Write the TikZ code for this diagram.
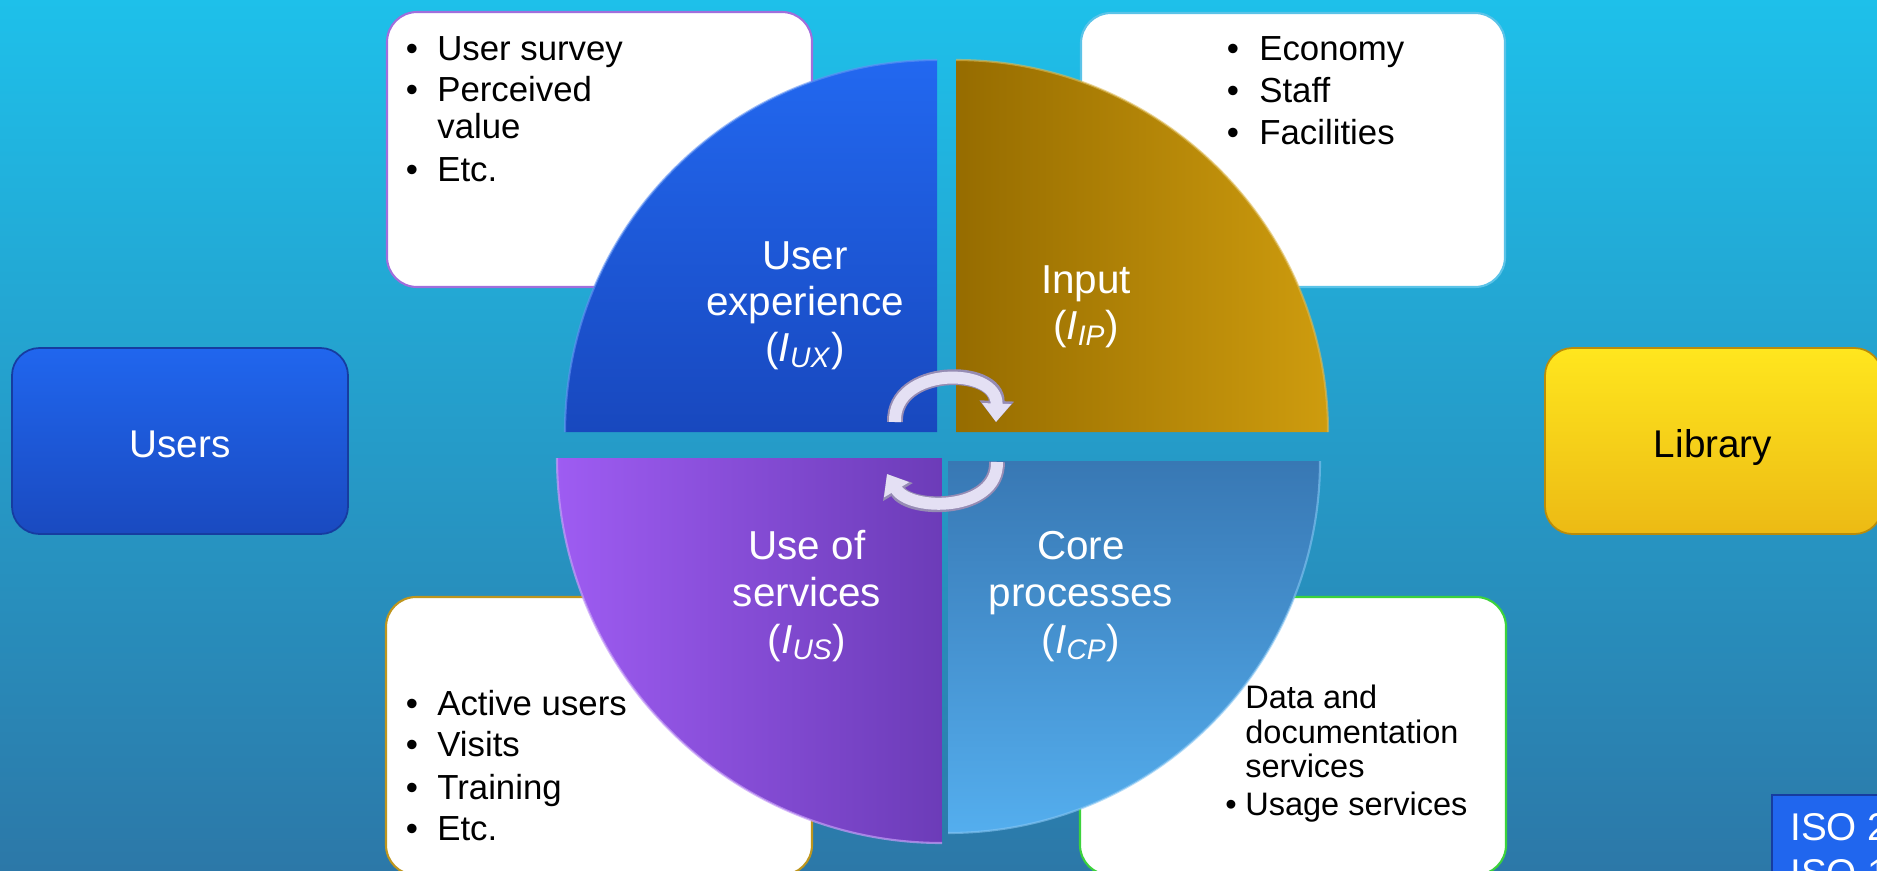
\documentclass[tikz,border=0pt]{standalone}
\usepackage{fontspec}
\setmainfont{Liberation Sans}
\usetikzlibrary{arrows.meta}
\definecolor{bgtop}{RGB}{30,192,234}
\definecolor{bgmid}{RGB}{34,160,208}
\definecolor{bgbot}{RGB}{44,120,168}
\definecolor{bqtop}{RGB}{34,104,240}
\definecolor{bqbot}{RGB}{24,72,190}
\definecolor{gqleft}{RGB}{150,108,0}
\definecolor{gqright}{RGB}{206,156,14}
\definecolor{pqleft}{RGB}{158,92,242}
\definecolor{pqright}{RGB}{108,60,184}
\definecolor{lqtop}{RGB}{56,120,180}
\definecolor{lqbot}{RGB}{84,174,238}
\definecolor{ubtop}{RGB}{32,102,238}
\definecolor{ubbot}{RGB}{26,74,192}
\definecolor{ubedge}{RGB}{22,60,160}
\definecolor{lbtop}{RGB}{255,230,30}
\definecolor{lbbot}{RGB}{236,186,20}
\definecolor{lbedge}{RGB}{185,140,10}
\definecolor{bdpurple}{RGB}{160,110,220}
\definecolor{bdcyan}{RGB}{90,195,232}
\definecolor{bdgold}{RGB}{190,150,30}
\definecolor{bdgreen}{RGB}{60,210,60}
\definecolor{arrlight}{RGB}{228,224,244}
\definecolor{arrdark}{RGB}{150,140,180}
\newcommand\myqf{\fontsize{23}{26}\selectfont}
\newcommand\mybf{\fontsize{19.8}{23}\selectfont}
\newcommand\mysf{\fontsize{18.5}{20}\selectfont}
\newcommand\mybig{\fontsize{22}{26}\selectfont}
\begin{document}
\begin{tikzpicture}[x=0.02cm,y=-0.02cm,
  wbox/.style={fill=white, rounded corners=0.6cm, line width=1.2pt},
  qlabel/.style={anchor=base, inner sep=0pt, text=white, font=\myqf},
  bdot/.style={anchor=base, inner sep=0pt, font=\mybf},
  btxt/.style={anchor=base west, inner sep=0pt, font=\mybf},
  stxt/.style={anchor=base west, inner sep=0pt, font=\mysf},
  sdot/.style={anchor=base, inner sep=0pt, font=\mysf},
  arrunder/.style={line width=9pt, color=arrdark, -{Triangle[length=12pt,width=19pt]}},
  arrover/.style={line width=6.8pt, color=arrlight, -{Triangle[length=10.5pt,width=16pt]}}]
\useasboundingbox (0,0) rectangle (1877,870);
\clip (0,0) rectangle (1877,870);
% background
\shade[top color=bgtop, middle color=bgmid, bottom color=bgbot] (0,0) rectangle (1877,870);
% white boxes
\draw[wbox, draw=bdpurple] (387,12) rectangle (812,287);
\draw[wbox, draw=bdcyan] (1081,13) rectangle (1505,287);
\draw[wbox, draw=bdgold] (386,597) rectangle (812,875);
\draw[wbox, draw=bdgreen] (1080,597) rectangle (1506,875);
% quadrants
\shade[top color=bqtop, bottom color=bqbot] (937,432) -- (565,432) .. controls (565,226.6) and (731.6,60) .. (937,60) -- cycle;
\shade[left color=gqleft, right color=gqright] (956,432) -- (956,60) .. controls (1161.4,60) and (1328,226.6) .. (1328,432) -- cycle;
\shade[left color=pqleft, right color=pqright] (942,458) -- (557,458) .. controls (557,670.6) and (729.4,843) .. (942,843) -- cycle;
\shade[top color=lqtop, bottom color=lqbot] (948,461) -- (1320,461) .. controls (1320,666.4) and (1153.4,833) .. (948,833) -- cycle;
% subtle rims
\draw[line width=1.2pt, color=bqtop!70!white, opacity=0.6] (565,432) .. controls (565,226.6) and (731.6,60) .. (937,60);
\draw[line width=1.2pt, color=gqright!70!white, opacity=0.6] (956,60) .. controls (1161.4,60) and (1328,226.6) .. (1328,432);
\draw[line width=1.2pt, color=pqleft!60!white, opacity=0.7] (557,458) .. controls (557,670.6) and (729.4,843) .. (942,843);
\draw[line width=1.2pt, color=lqbot!70!white, opacity=0.6] (1320,461) .. controls (1320,666.4) and (1153.4,833) .. (948,833);
% quadrant labels
\node[qlabel] (ux1) at (805,269) {User};
\node[qlabel] (ux2) at (805,315) {experience};
\node[qlabel] (ux3) at (805,361) {(\textit{I}\textsubscript{\textit{UX}})};
\node[qlabel] (ip1) at (1086,293) {Input};
\node[qlabel] (ip2) at (1086,339) {(\textit{I}\textsubscript{\textit{IP}})};
\node[qlabel] (us1) at (807,559) {Use of};
\node[qlabel] (us2) at (807,606) {services};
\node[qlabel] (us3) at (807,653) {(\textit{I}\textsubscript{\textit{US}})};
\node[qlabel] (cp1) at (1081,559) {Core};
\node[qlabel] (cp2) at (1081,606) {processes};
\node[qlabel] (cp3) at (1081,653) {(\textit{I}\textsubscript{\textit{CP}})};
% circular arrows
\coordinate (a1) at (895,422);
\coordinate (a2) at (996,422);
\coordinate (b1) at (997,462);
\coordinate (b2) at (887,474);
\draw[arrunder] (a1) .. controls (893,366) and (998,366) .. (a2);
\draw[arrover] (a1) .. controls (893,366) and (998,366) .. (a2);
\draw[arrunder] (b1) .. controls (998,512) and (910,512) .. (b2);
\draw[arrover] (b1) .. controls (998,512) and (910,512) .. (b2);
% Users and Library
\shade[top color=ubtop, bottom color=ubbot, rounded corners=0.55cm] (12,348) rectangle (348,534);
\draw[ubedge, line width=1pt, rounded corners=0.55cm] (12,348) rectangle (348,534);
\node[anchor=base, inner sep=0pt, text=white, font=\mybig] (users) at (180,457) {Users};
\shade[top color=lbtop, bottom color=lbbot, rounded corners=0.55cm] (1545,348) rectangle (1882,534);
\draw[lbedge, line width=1pt, rounded corners=0.55cm] (1545,348) rectangle (1882,534);
\node[anchor=base, inner sep=0pt, text=black, font=\mybig] (library) at (1713,457) {Library};
% ISO box
\fill[ubtop] (1772,795) rectangle (1900,900);
\draw[ubedge, line width=0.8pt] (1772,795) rectangle (1900,900);
\node[anchor=base west, inner sep=0pt, text=white, font=\mybig] (iso1) at (1790,840) {ISO 2};
\node[anchor=base west, inner sep=0pt, text=white, font=\mybig] (iso2) at (1790,886) {ISO 1};
% top-left box text
\node[bdot] (tlb1) at (412,60) {•};
\node[btxt] (tl1) at (437,60) {User survey};
\node[bdot] (tlb2) at (412,101.5) {•};
\node[btxt] (tl2) at (437,101.5) {Perceived};
\node[btxt] (tl3) at (437,138) {value};
\node[bdot] (tlb4) at (412,181) {•};
\node[btxt] (tl4) at (437,181) {Etc.};
% top-right box text
\node[bdot] (trb1) at (1233,60) {•};
\node[btxt] (tr1) at (1259,60) {Economy};
\node[bdot] (trb2) at (1233,102) {•};
\node[btxt] (tr2) at (1259,102) {Staff};
\node[bdot] (trb3) at (1233,144) {•};
\node[btxt] (tr3) at (1259,144) {Facilities};
% bottom-left box text
\node[bdot] (blb1) at (412,715) {•};
\node[btxt] (bl1) at (437,715) {Active users};
\node[bdot] (blb2) at (412,756) {•};
\node[btxt] (bl2) at (437,756) {Visits};
\node[bdot] (blb3) at (412,799) {•};
\node[btxt] (bl3) at (437,799) {Training};
\node[bdot] (blb4) at (412,840) {•};
\node[btxt] (bl4) at (437,840) {Etc.};
% bottom-right box text
\node[stxt] (br1) at (1245,708) {Data and};
\node[stxt] (br2) at (1245,743) {documentation};
\node[stxt] (br3) at (1245,777) {services};
\node[sdot] (brb4) at (1231,815) {•};
\node[stxt] (br4) at (1245,815) {Usage services};
\end{tikzpicture}
\end{document}
